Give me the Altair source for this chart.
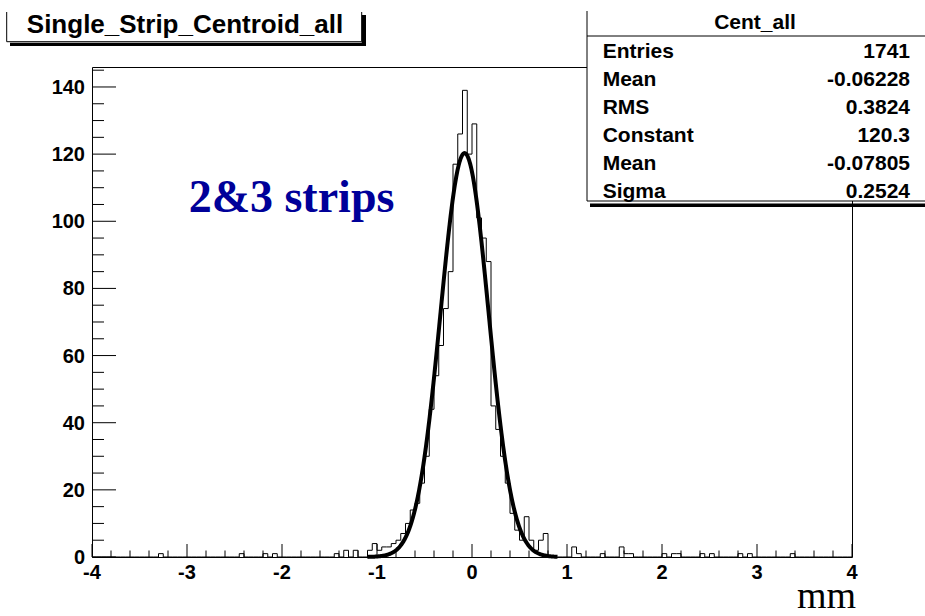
import altair as alt
import pandas as pd
import numpy as np

# ---------------- data ----------------
x_min, x_max = -4.0, 4.0
n_bins = 160                      # bin width 0.05
y_max = 145.95                    # 1.05 * max bin

nonzero_bin_low = [-3.30, -2.45, -2.20, -2.10, -1.45, -1.35, -1.25, -1.10, -1.05, -1.00,
                   -0.95, -0.90, -0.85, -0.80, -0.75, -0.70, -0.65, -0.60, -0.55, -0.50,
                   -0.45, -0.40, -0.35, -0.30, -0.25, -0.20, -0.15, -0.10, -0.05, 0.00,
                   0.05, 0.10, 0.15, 0.20, 0.25, 0.30, 0.35, 0.40, 0.45, 0.50,
                   0.55, 0.60, 0.65, 0.70, 0.75, 1.05, 1.10, 1.35, 1.55, 1.60,
                   1.65, 2.00, 2.10, 2.15, 2.40, 2.50, 2.80, 2.90, 3.35]
nonzero_counts = [1, 1, 1, 1, 1, 2, 2, 2, 4, 2,
                  3, 3, 4, 5, 7, 10, 14, 16, 22, 30,
                  44, 54, 63, 74, 85, 117, 126, 139, 120, 129,
                  101, 95, 88, 45, 38, 30, 22, 13, 8, 5,
                  12, 5, 2, 5, 7, 3, 1, 1, 3, 1,
                  1, 1, 1, 1, 1, 1, 1, 1, 1]

fit_constant = 120.3
fit_mean = -0.07805
fit_sigma = 0.2524
fit_range = [-1.1, 0.9]

x_tick_labels = [-4, -3, -2, -1, 0, 1, 2, 3, 4]
y_tick_labels = [0, 20, 40, 60, 80, 100, 120, 140]

title_text = "Single_Strip_Centroid_all"
stats_title = "Cent_all"
stats_labels = ["Entries", "Mean", "RMS", "Constant", "Mean", "Sigma"]
stats_values = ["1741", "-0.06228", "0.3824", "120.3", "-0.07805", "0.2524"]
annotation_text = "2&3 strips"
x_unit_text = "mm"

# ---------------- build tables ----------------
bin_w = (x_max - x_min) / n_bins
edges = [round(x_min + i * bin_w, 2) for i in range(n_bins + 1)]
counts = [0] * n_bins
for lo, c in zip(nonzero_bin_low, nonzero_counts):
    counts[int(round((lo - x_min) / bin_w))] = c
hist_df = pd.DataFrame({"x": edges, "count": counts + [counts[-1]]})

x_minor = [round(x_min + 0.2 * i, 1) for i in range(41) if i % 5]
y_minor = [v for v in range(0, 146, 5) if v % 20]

W, H = 760, 490
FONT = "Liberation Sans"
SERIF = "Liberation Serif"

xs = alt.Scale(domain=[x_min, x_max], nice=False, zero=False)
ys = alt.Scale(domain=[0, y_max], nice=False, zero=True)

hist = alt.Chart(hist_df).mark_line(
    interpolate="step-after", color="black", strokeWidth=1
).encode(
    x=alt.X("x:Q", scale=xs, axis=None),
    y=alt.Y("count:Q", scale=ys, axis=None),
)

fit = alt.Chart(alt.sequence(fit_range[0], fit_range[1] + 0.0001, 0.005, as_="xf")).transform_calculate(
    yf=f"{fit_constant}*exp(-0.5*pow((datum.xf-({fit_mean}))/{fit_sigma},2))"
).mark_line(color="black", strokeWidth=4, strokeCap="butt").encode(
    x=alt.X("xf:Q", scale=xs, axis=None),
    y=alt.Y("yf:Q", scale=ys, axis=None),
)


def xticks(vals, length):
    return alt.Chart(pd.DataFrame({"v": vals})).mark_rule(color="black", strokeWidth=1).encode(
        x=alt.X("v:Q", scale=xs, axis=None), y=alt.value(H), y2=alt.value(H - length))


def yticks(vals, length):
    return alt.Chart(pd.DataFrame({"v": vals})).mark_rule(color="black", strokeWidth=1).encode(
        y=alt.Y("v:Q", scale=ys, axis=None), x=alt.value(0), x2=alt.value(length))


xlab_df = pd.DataFrame({"v": x_tick_labels, "t": [str(v) for v in x_tick_labels]})
ylab_df = pd.DataFrame({"v": y_tick_labels, "t": [str(v) for v in y_tick_labels]})

xlabels = alt.Chart(xlab_df).mark_text(
    font=FONT, fontSize=20, fontWeight="bold", align="center", baseline="alphabetic", color="black"
).encode(x=alt.X("v:Q", scale=xs, axis=None), y=alt.value(H + 21.5), text="t:N")

ylabels = alt.Chart(ylab_df).mark_text(
    font=FONT, fontSize=20, fontWeight="bold", align="right", baseline="alphabetic", color="black", dy=7
).encode(y=alt.Y("v:Q", scale=ys, axis=None), x=alt.value(-7), text="t:N")

one = pd.DataFrame({"k": [0]})


def box(x1, x2, y1, y2, color):
    return alt.Chart(one).mark_rect(color=color, strokeWidth=0).encode(
        x=alt.value(x1), x2=alt.value(x2), y=alt.value(y1), y2=alt.value(y2))


def line(x1, x2, y1, y2, w=1):
    return alt.Chart(one).mark_rule(color="black", strokeWidth=w).encode(
        x=alt.value(x1), x2=alt.value(x2), y=alt.value(y1), y2=alt.value(y2))


def txt(s, x, y, size, weight="bold", align="left", font=FONT, color="black"):
    return alt.Chart(one).mark_text(
        text=s, fontSize=size, fontWeight=weight, font=font, align=align,
        baseline="alphabetic", color=color
    ).encode(x=alt.value(x), y=alt.value(y))


layers = [hist, fit,
          xticks(x_tick_labels, 13), xticks(x_minor, 6.5),
          yticks(y_tick_labels, 24), yticks(y_minor, 12),
          xlabels, ylabels]

# title box (pave with shadow)
layers += [
    box(-85.3, 269.7, -55, -25.3, "white"),
    line(-85.3, -85.3, -55, -25.3),
    line(-85.3, 269.7, -25.3, -25.3),
    line(269.7, 269.7, -55, -25.3),
    box(269.7, 274, -52, -21, "black"),
    box(-82, 274, -24.3, -21, "black"),
    txt(title_text, 93, -33.7, 26, align="center"),
]

# stats box
layers += [
    box(495, 845, -56, 134, "white"),
    line(495, 495, -56, 134),
    line(495, 845, 134, 134),
    box(498, 845, 136.5, 140, "black"),
    line(495, 845, -31, -31),
    txt(stats_title, 663, -37.7, 21, align="center"),
]
for i, (lab, val) in enumerate(zip(stats_labels, stats_values)):
    yb = -9.5 + 28 * i
    layers.append(txt(lab, 510.7, yb, 21, align="left"))
    layers.append(txt(val, 818, yb, 21, align="right"))

layers += [
    txt(annotation_text, 199.5, 144.7, 46, align="center", font=SERIF, color="#000099"),
    txt(x_unit_text, 734.5, 541, 38, weight="normal", align="center", font=SERIF),
]

chart = alt.layer(*layers).properties(
    width=W, height=H,
    padding={"left": 92, "top": 67, "right": 73, "bottom": 59},
    autosize=alt.AutoSizeParams(type="none"),
    background="white",
).configure_view(stroke="black", strokeWidth=1)

chart.save("out.html", embed_options={"renderer": "svg", "actions": False})
